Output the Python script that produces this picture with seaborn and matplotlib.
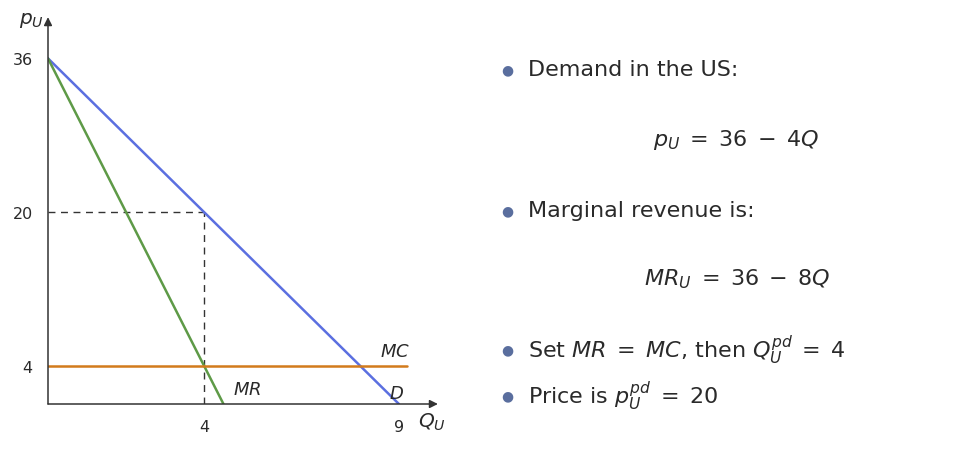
import matplotlib
matplotlib.use('Agg')
import matplotlib.pyplot as plt
import seaborn as sns
import pandas as pd

# Chart data
demand_q = [0, 9]
demand_p = [36, 0]
mr_q = [0, 4.5]
mr_p = [36, 0]
mc_q = [0, 9.2]
mc_p = [4, 4]
q_star = 4
p_star = 20
x_ticks = [4, 9]
y_ticks = [4, 20, 36]

BLUE = "#5b6fe0"
GREEN = "#5e9a47"
ORANGE = "#d27b1c"
BULLET = "#5a6e9e"
INK = "#2a2a2a"

sns.set_theme(style="white")
plt.rcParams['font.family'] = ['DejaVu Sans']
plt.rcParams['mathtext.fontset'] = 'dejavusans'

fig = plt.figure(figsize=(9.56, 4.6), dpi=100)
ax = fig.add_axes([48 / 956, 55 / 460, 386 / 956, 384 / 460])
ax.set_xlim(0, 9.9)
ax.set_ylim(0, 40)

lines = pd.concat([
    pd.DataFrame({"Q": demand_q, "p": demand_p, "curve": "D"}),
    pd.DataFrame({"Q": mr_q, "p": mr_p, "curve": "MR"}),
    pd.DataFrame({"Q": mc_q, "p": mc_p, "curve": "MC"}),
])
sns.lineplot(data=lines, x="Q", y="p", hue="curve", sort=False,
             palette={"D": BLUE, "MR": GREEN, "MC": ORANGE},
             linewidth=1.8, legend=False, ax=ax, zorder=3)

# dashed guides to the optimum
ax.plot([0, q_star], [p_star, p_star], ls=(0, (5, 4)), color="#333333", lw=1)
ax.plot([q_star, q_star], [0, p_star], ls=(0, (5, 4)), color="#333333", lw=1)

for s in ax.spines.values():
    s.set_visible(False)
ax.annotate("", xy=(10.0, 0), xytext=(0, 0), annotation_clip=False,
            arrowprops=dict(arrowstyle="-|>", color="#333333", lw=1.1,
                            mutation_scale=12, shrinkA=0, shrinkB=0))
ax.annotate("", xy=(0, 40.3), xytext=(0, 0), annotation_clip=False,
            arrowprops=dict(arrowstyle="-|>", color="#333333", lw=1.1,
                            mutation_scale=12, shrinkA=0, shrinkB=0))

ax.set_xticks(x_ticks)
ax.set_yticks(y_ticks)
ax.set_xticklabels([str(t) for t in x_ticks], fontsize=11.5, color=INK)
ax.set_yticklabels([str(t) for t in y_ticks], fontsize=11.5, color=INK)
ax.tick_params(axis="both", direction="inout", length=8, width=0.8,
               color="#bbbbbb", pad=7)
ax.set_xlabel("")
ax.set_ylabel("")

ax.text(-0.1, 40.1, r"$p_U$", fontsize=14.5, ha="right", va="center", color=INK)
ax.text(9.5, -1.8, r"$Q_U$", fontsize=14.5, ha="left", va="center", color=INK)
ax.text(8.9, 4.6, r"$MC$", fontsize=13, ha="center", va="bottom", color=INK)
ax.text(4.75, 0.6, r"$MR$", fontsize=13, ha="left", va="bottom", color=INK)
ax.text(8.95, 0.2, r"$D$", fontsize=13, ha="center", va="bottom", color=INK)

# bullet text on the right
fs = 16
items = [
    (70, "Demand in the US:"),
    (211, "Marginal revenue is:"),
    (350, r"Set $MR\;=\;MC$, then $Q_U^{pd}\;=\;4$"),
    (396, r"Price is $p_U^{pd}\;=\;20$"),
]
for y, txt in items:
    fig.text(507 / 956, 1 - y / 460, "\u25CF", color=BULLET, fontsize=10,
             ha="center", va="center")
    fig.text(528 / 956, 1 - y / 460, txt, fontsize=fs, ha="left", va="center",
             color=INK)

fig.text(736 / 956, 1 - 140 / 460, r"$p_U\;=\;36\;-\;4Q$", fontsize=fs,
         ha="center", va="center", color=INK)
fig.text(737 / 956, 1 - 279 / 460, r"$MR_U\;=\;36\;-\;8Q$", fontsize=fs,
         ha="center", va="center", color=INK)

fig.savefig("out.png", dpi=100)
